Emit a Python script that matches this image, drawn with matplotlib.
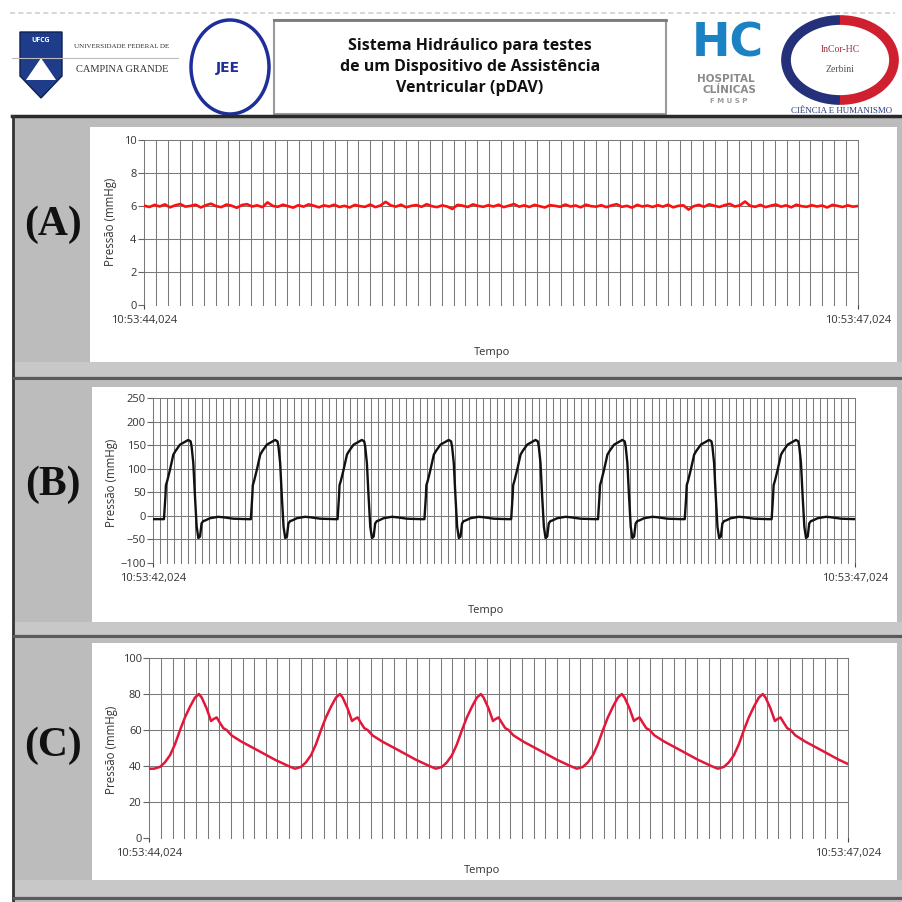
import matplotlib
matplotlib.use("Agg")
import matplotlib.pyplot as plt
import matplotlib.patches as patches
import numpy as np

plt.rcParams["font.family"] = ["Open Sans", "DejaVu Sans"]

W, H = 903, 902

# ---------------- data ----------------
# (A) steady pressure, seconds after 10:53:44,024
a_time_end = 3.0
a_pressure = [
    6.02, 5.94, 6.07, 5.97, 6.10, 5.92, 6.04, 6.12, 5.96, 6.01,
    6.08, 5.91, 6.05, 6.14, 5.99, 5.93, 6.09, 6.02, 5.89, 6.06,
    6.11, 5.97, 6.04, 5.93, 6.22, 6.01, 5.95, 6.08, 5.99, 5.90,
    6.05, 5.96, 6.10, 6.02, 5.92, 6.04, 5.97, 6.08, 5.94, 6.01,
    5.91, 6.07, 5.99, 5.95, 6.09, 5.93, 6.03, 6.25, 6.04, 5.96,
    6.08, 5.92, 6.01, 6.06, 5.95, 6.11, 5.99, 5.93, 6.04, 5.97,
    5.82, 6.07, 6.02, 5.94, 6.10, 6.01, 5.95, 6.05, 5.97, 6.08,
    5.93, 6.02, 6.12, 5.96, 6.04, 5.94, 6.07, 5.99, 5.91, 6.05,
    6.01, 5.95, 6.09, 5.97, 6.03, 5.92, 6.08, 5.99, 5.96, 6.05,
    5.93, 6.04, 6.11, 5.95, 6.01, 5.90, 6.07, 5.97, 6.03, 5.94,
    6.05, 5.96, 6.08, 5.92, 6.01, 6.04, 5.78, 5.99, 6.07, 5.95,
    6.10, 6.02, 5.94, 6.05, 6.13, 5.97, 6.04, 6.27, 6.01, 5.95,
    6.07, 5.93, 6.02, 6.09, 5.96, 6.04, 5.92, 6.08, 5.99, 5.95,
    6.05, 5.97, 6.03, 5.91, 6.07, 6.01, 5.94, 6.04, 5.96, 6.00,
]

# (B) pump chamber pressure, seconds after 10:53:42,024
b_time_end = 5.0
b_rest = -7
b_beat_t = [0.000, 0.010, 0.014, 0.024, 0.043, 0.067, 0.083, 0.114, 0.143,
            0.173, 0.190, 0.197, 0.209, 0.221, 0.233, 0.245, 0.257, 0.268,
            0.280, 0.292, 0.328, 0.387, 0.423, 0.494, 0.594]
b_beat_p = [-7, 40, 65, 75, 98, 130, 138, 151, 156,
            161, 158, 147, 112, 41, -23, -47, -44, -16,
            -11, -10, -5, -2, -3, -6, -7]
b_onsets = [0.076, 0.695, 1.313, 1.932, 2.550, 3.169, 3.787, 4.406]

# (C) aortic pressure, seconds after 10:53:44,024
c_time_end = 3.0
c_cycle_t = [0.000, 0.026, 0.047, 0.069, 0.090, 0.112, 0.133, 0.155, 0.176,
             0.193, 0.205, 0.226, 0.245, 0.255, 0.269, 0.283, 0.298, 0.312,
             0.333, 0.376, 0.448, 0.519, 0.577, 0.605]
c_cycle_p = [38.5, 39.5, 42, 46, 52, 60, 67, 73, 78,
             80, 78, 72, 65, 66, 67, 64, 61, 60,
             57, 53.5, 48.5, 43.5, 40, 38.5]
c_troughs = [0.02, 0.625, 1.23, 1.835, 2.44]
c_start = 38.5

a_yticks = [0, 2, 4, 6, 8, 10]
b_yticks = [-100, -50, 0, 50, 100, 150, 200, 250]
c_yticks = [0, 20, 40, 60, 80, 100]

# ---------------- build series ----------------
a_t = np.linspace(0, a_time_end, len(a_pressure))

b_t, b_p = [0.0], [b_rest]
for t0 in b_onsets:
    b_t += [t0 + d for d in b_beat_t]
    b_p += b_beat_p

c_t, c_p = [0.0], [c_start]
for t0 in c_troughs:
    c_t += [t0 + d for d in c_cycle_t]
    c_p += c_cycle_p

# ---------------- figure ----------------
fig = plt.figure(figsize=(W / 100, H / 100), dpi=100)
bg = fig.add_axes([0, 0, 1, 1])
bg.set_xlim(0, W)
bg.set_ylim(H, 0)
bg.axis("off")


def frac(x0, y0, x1, y1):
    return [x0 / W, 1 - y1 / H, (x1 - x0) / W, (y1 - y0) / H]


def ptext(x, y, s, **kw):
    kw.setdefault("ha", "center")
    kw.setdefault("va", "center")
    fig.text(x / W, 1 - y / H, s, **kw)


def rect(x0, y0, x1, y1, **kw):
    bg.add_patch(patches.Rectangle((x0, y0), x1 - x0, y1 - y0, **kw))


# header
rect(0, 0, W, 116, facecolor="white", edgecolor="none")
bg.plot([10, 895], [13, 13], color="#cfcfcf", lw=1.2, ls=(0, (3, 2)))
rect(274, 20, 666, 114, facecolor="white", edgecolor="#9a9a9a", lw=1.5)
bg.plot([274, 666], [20, 20], color="#7a7a7a", lw=2)
ptext(470, 67, "Sistema Hidráulico para testes\nde um Dispositivo de Assistência\nVentricular (pDAV)",
      fontsize=11.5, fontweight="bold", linespacing=1.45, color="#111111")

# UFCG
bg.add_patch(patches.Polygon([(20, 32), (62, 32), (62, 76), (41, 98), (20, 76)],
                             closed=True, facecolor="#1f3c8a", edgecolor="#0f2050"))
bg.add_patch(patches.Polygon([(26, 80), (41, 58), (56, 80)], closed=True,
                             facecolor="white", edgecolor="none"))
ptext(41, 40, "UFCG", fontsize=5, color="white", fontweight="bold")
bg.plot([12, 178], [58, 58], color="#bbbbbb", lw=0.8)
ptext(122, 47, "UNIVERSIDADE FEDERAL DE", fontsize=5, color="#333333", family="Liberation Serif")
ptext(122, 70, "CAMPINA GRANDE", fontsize=7.5, color="#333333", family="Liberation Serif")

# JEE
bg.add_patch(patches.Ellipse((230, 67), 78, 94, facecolor="none", edgecolor="#1e2e9a", lw=2.5))
ptext(228, 68, "JEE", fontsize=10, color="#1e2e9a", fontweight="bold", family="DejaVu Sans")

# HC
ptext(728, 44, "HC", fontsize=33, color="#1b82c4", fontweight="bold", family="DejaVu Sans")
ptext(726, 79, "HOSPITAL", fontsize=7.5, color="#8a8a8a", fontweight="bold", family="DejaVu Sans")
ptext(729, 90, "CLÍNICAS", fontsize=7.5, color="#8a8a8a", fontweight="bold", family="DejaVu Sans")
ptext(729, 101, "F M U S P", fontsize=5, color="#9a9a9a", fontweight="bold", family="DejaVu Sans")

# InCor
bg.add_patch(patches.Arc((840, 60), 108, 80, theta1=90, theta2=270, color="#25307a", lw=7))
bg.add_patch(patches.Arc((840, 60), 108, 80, theta1=-90, theta2=90, color="#cf2030", lw=7))
ptext(840, 50, "InCor-HC", fontsize=7, color="#a03040", family="Liberation Serif")
ptext(840, 70, "Zerbini", fontsize=7, color="#555555", family="Liberation Serif")
ptext(842, 111, "CIÊNCIA E HUMANISMO", fontsize=6.4, color="#2b3a7a", family="Liberation Serif")

# grey panel area
rect(14, 117, W, H, facecolor="#bcbcbc", edgecolor="none")
bg.plot([12, W], [116, 116], color="#2a2a2a", lw=2.5)
bg.plot([13, 13], [116, H], color="#333333", lw=2)
for y0, y1 in [(362, 376), (622, 634), (880, 896)]:
    rect(14, y0, W, y1, facecolor="#c8c8c8", edgecolor="none")
    bg.plot([14, W], [y1 + 1.5, y1 + 1.5], color="#5a5a5a", lw=2.2)
rect(90, 127, 897, 362, facecolor="white", edgecolor="none")
rect(92, 387, 897, 622, facecolor="white", edgecolor="none")
rect(92, 643, 897, 880, facecolor="white", edgecolor="none")

for lbl, yc in [("(A)", 225), ("(B)", 485), ("(C)", 746)]:
    ptext(53, yc, lbl, fontsize=30, fontweight="bold", family="Liberation Serif", color="#111111")

GRID = "#7a7a7a"


def chart(box, t, p, color, lw, t_end, yticks, left_lbl, right_lbl, ylab_xy, tempo_xy):
    ax = fig.add_axes(frac(*box))
    ax.set_xlim(0, t_end)
    ax.set_ylim(yticks[0], yticks[-1])
    ax.patch.set_alpha(0)
    for s in ax.spines.values():
        s.set_visible(False)
    for g in np.arange(0, t_end + 1e-9, 0.05):
        ax.axvline(g, color=GRID, lw=0.75, zorder=1, clip_on=False)
    for yv in yticks[1:]:
        ax.axhline(yv, color=GRID, lw=0.75, zorder=1, clip_on=False)
    ax.plot(t, p, color=color, lw=lw, zorder=3, solid_joinstyle="round")
    ax.set_yticks(yticks)
    ax.set_xticks([0, t_end])
    ax.set_xticklabels([left_lbl, right_lbl])
    ax.tick_params(axis="y", length=4, width=0.8, color="#666666", pad=1.5,
                   labelsize=8, labelcolor="#333333")
    ax.tick_params(axis="x", length=3, width=0.8, color="#444444", pad=4,
                   labelsize=8, labelcolor="#333333")
    ptext(ylab_xy[0], ylab_xy[1], "Pressão (mmHg)", rotation=90, fontsize=8.3, color="#333333")
    ptext(tempo_xy[0], tempo_xy[1], "Tempo", fontsize=8, color="#333333")
    return ax


chart((144.3, 140, 858, 305), a_t, a_pressure, "#ff1010", 1.9, a_time_end, a_yticks,
      "10:53:44,024", "10:53:47,024", (111, 222), (492, 352))
chart((153.3, 398, 855, 563), b_t, b_p, "#111111", 1.7, b_time_end, b_yticks,
      "10:53:42,024", "10:53:47,024", (112, 483), (486, 611))
chart((149.3, 658, 848.3, 838), c_t, c_p, "#e3173a", 1.8, c_time_end, c_yticks,
      "10:53:44,024", "10:53:47,024", (112, 750), (482, 870))

fig.savefig("out.png", dpi=100)
